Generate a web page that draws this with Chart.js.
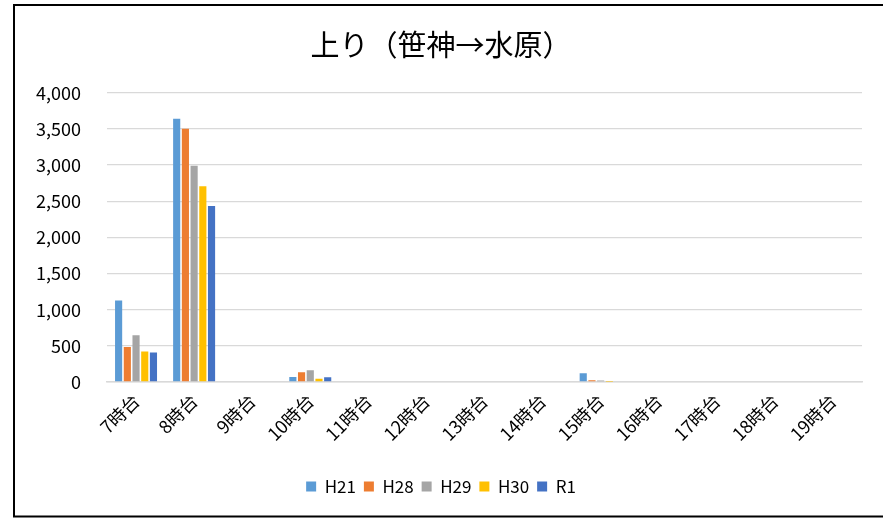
<!DOCTYPE html>
<html><head><meta charset="utf-8">
<script src="https://cdn.jsdelivr.net/npm/chart.js@4"></script>
<style>html,body{margin:0;padding:0;background:#fff;overflow:hidden}#wrap{width:883px;height:519px;position:relative}</style>
</head><body><div id="wrap"><canvas id="c" width="883" height="519"></canvas></div>
<script>
const categories = ['7時台','8時台','9時台','10時台','11時台','12時台','13時台','14時台','15時台','16時台','17時台','18時台','19時台'];
const seriesNames = ['H21','H28','H29','H30','R1'];
const H21 = [1127, 3640, 0, 68, 0, 0, 0, 0, 120, 0, 0, 0, 0];
const H28 = [484, 3502, 0, 134, 0, 0, 0, 0, 23, 0, 0, 0, 0];
const H29 = [646, 2990, 0, 162, 0, 0, 0, 0, 20, 0, 0, 0, 0];
const H30 = [421, 2709, 0, 44, 0, 0, 0, 0, 4, 0, 0, 0, 0];
const R1  = [407, 2436, 0, 65, 0, 0, 0, 0, 0, 0, 0, 0, 0];
const colors = ['#5B9BD5','#ED7D31','#A5A5A5','#FFC000','#4472C4'];
const title = '上り（笹神→水原）';
const FONT = "'Noto Sans CJK JP', 'Noto Sans', sans-serif";

const borderPlugin = {
  id: 'frame',
  afterDraw(chart) {
    const ctx = chart.ctx;
    ctx.save();
    ctx.strokeStyle = '#000';
    ctx.lineWidth = 2;
    ctx.beginPath();
    ctx.moveTo(890, 5);
    ctx.lineTo(14, 5);
    ctx.lineTo(14, 516.5);
    ctx.lineTo(890, 516.5);
    ctx.stroke();
    ctx.restore();
  }
};

const allSeries = [H21, H28, H29, H30, R1];
new Chart(document.getElementById('c'), {
  type: 'bar',
  data: {
    labels: categories,
    datasets: seriesNames.map((n, i) => ({
      label: n, data: allSeries[i], backgroundColor: colors[i],
      categoryPercentage: 0.75, barPercentage: 0.82
    }))
  },
  options: {
    responsive: false, animation: false,
    layout: { padding: { left: 20, right: 21, top: 22, bottom: 14 } },
    plugins: {
      title: { display: true, text: title, color: '#000',
        font: { family: FONT, size: 29, weight: 'normal' }, padding: { top: 6, bottom: 30 } },
      legend: { position: 'bottom',
        labels: { boxWidth: 10, boxHeight: 10, color: '#000', padding: 8,
          font: { family: FONT, size: 17 } } },
      tooltip: { enabled: false }
    },
    scales: {
      x: {
        grid: { display: false, drawTicks: false },
        border: { display: true, color: '#d9d9d9', width: 1.5 },
        ticks: { color: '#000', maxRotation: 45, minRotation: 45, padding: 8,
          font: { family: FONT, size: 18 } },
        afterFit(s) { s.height = 88; }
      },
      y: {
        min: 0, max: 4000,
        grid: { color: '#d9d9d9', lineWidth: 1.3, drawTicks: false },
        border: { display: false },
        ticks: { stepSize: 500, color: '#000', padding: 26,
          font: { family: FONT, size: 18 },
          callback: v => v.toLocaleString('en-US') },
        afterFit(s) { s.width = 87; }
      }
    }
  },
  plugins: [borderPlugin]
});
</script></body></html>
